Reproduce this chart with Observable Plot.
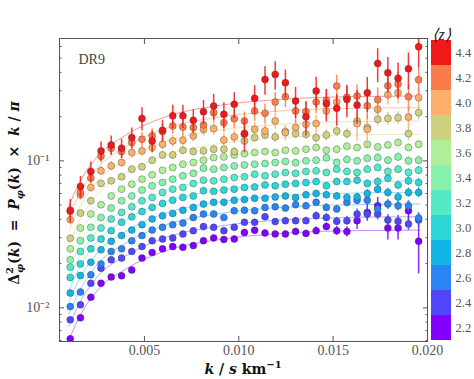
<!DOCTYPE html>
<html><head><meta charset="utf-8">
<script src="https://cdn.jsdelivr.net/npm/d3@7"></script>
<script src="https://cdn.jsdelivr.net/npm/@observablehq/plot@0.6"></script>
<style>
body{margin:0;background:#fff;}
#wrap{position:relative;width:474px;height:379px;}
#wrap svg{position:absolute;left:0;top:0;}
</style></head><body><div id="wrap"></div>
<script>
// ---- data ----
const kValues = [0.00107,0.00161,0.00216,0.00270,0.00324,0.00379,0.00433,0.00487,0.00541,0.00596,0.00650,0.00704,0.00759,0.00813,0.00867,0.00921,0.00976,0.01030,0.01084,0.01139,0.01193,0.01247,0.01301,0.01356,0.01410,0.01464,0.01519,0.01573,0.01627,0.01681,0.01736,0.01790,0.01844,0.01899,0.01953];
const zBins = [2.2,2.4,2.6,2.8,3.0,3.2,3.4,3.6,3.8,4.0,4.2,4.4];
const binColors = ["#8000ff","#5046fa","#2a84f2","#12b4e6","#2cd6d6","#55eac6","#88f2ac","#b0ef98","#cdd07e","#fab06a","#fb7b4a","#f01818"];

const v22 = [0.00616,0.00855,0.0118,0.0147,0.0162,0.0165,0.0181,0.0218,0.0238,0.0252,0.0261,0.0258,0.0265,0.0286,0.0299,0.0292,0.0294,0.0326,0.0337,0.0323,0.0318,0.0318,0.0331,0.0321,0.0335,0.0357,0.0335,0.0330,0.0392,0.0446,0.0495,0.0349,0.0349,0.0458,0.0284];
const v24 = [0.00829,0.0105,0.0147,0.0186,0.0212,0.0218,0.0242,0.0261,0.0286,0.0294,0.0299,0.0318,0.0335,0.0357,0.0353,0.0335,0.0353,0.0382,0.0382,0.0416,0.0386,0.0392,0.0392,0.0392,0.0423,0.0412,0.0388,0.0392,0.0435,0.0435,0.0435,0.0396,0.0388,0.0372,0.0396];
const v26 = [0.0102,0.0128,0.0168,0.0199,0.0242,0.0252,0.0286,0.0310,0.0338,0.0353,0.0368,0.0377,0.0412,0.0435,0.0435,0.0412,0.0458,0.0462,0.0458,0.0482,0.0487,0.0477,0.0503,0.0495,0.0522,0.0482,0.0471,0.0522,0.0540,0.0540,0.0471,0.0508,0.0495,0.0495,0.0408];
const v28 = [0.0126,0.0166,0.0204,0.0248,0.0284,0.0310,0.0338,0.0368,0.0402,0.0423,0.0439,0.0462,0.0482,0.0508,0.0522,0.0522,0.0540,0.0546,0.0557,0.0557,0.0568,0.0577,0.0564,0.0588,0.0600,0.0588,0.0577,0.0564,0.0568,0.0600,0.0642,0.0610,0.0568,0.0610,0.0610];
const v30 = [0.0161,0.0199,0.0252,0.0294,0.0335,0.0382,0.0416,0.0452,0.0482,0.0513,0.0540,0.0564,0.0577,0.0626,0.0620,0.0633,0.0642,0.0659,0.0665,0.0686,0.0676,0.0694,0.0701,0.0712,0.0723,0.0676,0.0723,0.0723,0.0739,0.0701,0.0723,0.0760,0.0686,0.0731,0.0712];
const v32 = [0.0189,0.0242,0.0299,0.0349,0.0402,0.0446,0.0487,0.0535,0.0564,0.0610,0.0642,0.0659,0.0701,0.0739,0.0731,0.0750,0.0771,0.0779,0.0812,0.0791,0.0812,0.0833,0.0822,0.0846,0.0855,0.0833,0.0878,0.0846,0.0833,0.0878,0.0901,0.0846,0.0878,0.0833,0.0864];
const v34 = [0.0212,0.0286,0.0353,0.0412,0.0477,0.0535,0.0577,0.0633,0.0676,0.0712,0.0750,0.0791,0.0822,0.0892,0.0878,0.0901,0.0924,0.0937,0.0949,0.0959,0.0974,0.0990,0.0970,0.1000,0.1011,0.1048,0.0974,0.1022,0.1000,0.1042,0.1053,0.1011,0.1064,0.1000,0.1011];
const v36 = [0.0252,0.0349,0.0435,0.0503,0.0577,0.0642,0.0694,0.0750,0.0803,0.0864,0.0901,0.0949,0.0974,0.1011,0.1053,0.1064,0.1098,0.1121,0.1139,0.1157,0.1139,0.1181,0.1169,0.1199,0.1232,0.1181,0.1199,0.1258,0.1232,0.1297,0.1244,0.1284,0.1332,0.1232,0.1297];
const v38 = [0.0297,0.0441,0.0535,0.0702,0.0731,0.0779,0.0878,0.0910,0.1011,0.1098,0.1098,0.1181,0.1157,0.1169,0.1199,0.1199,0.1157,0.1367,0.1440,0.1501,0.1455,0.1582,0.1533,0.1517,0.1440,0.1501,0.1598,0.1533,0.1868,0.1684,0.1917,0.1945,0.1968,0.1533,0.2128];
const v40 = [0.0398,0.0588,0.0659,0.0855,0.0924,0.0974,0.1139,0.1169,0.1232,0.1297,0.1367,0.1381,0.1478,0.1641,0.1657,0.1388,0.1455,0.1517,0.1641,0.1598,0.1868,0.1557,0.1684,0.1774,0.1792,0.2185,0.2515,0.2691,0.1792,0.1641,0.2242,0.2820,0.2905,0.1988,0.2691];
const v42 = [0.0453,0.0610,0.0763,0.1076,0.1220,0.1157,0.1332,0.1403,0.1478,0.1582,0.1728,0.1701,0.1684,0.1756,0.2128,0.1820,0.1934,0.1868,0.2185,0.2107,0.2515,0.2733,0.2185,0.2162,0.2515,0.2580,0.3230,0.2705,0.2762,0.2375,0.2607,0.3248,0.3329,0.2733,0.3562];
const v44 = [0.0462,0.0669,0.0847,0.1169,0.1284,0.1220,0.1440,0.1945,0.1367,0.1614,0.2026,0.2026,0.1887,0.2162,0.2362,0.2074,0.2424,0.1533,0.2663,0.3580,0.3876,0.3402,0.2554,0.1994,0.2986,0.2449,0.2277,0.2620,0.2399,0.2906,0.4601,0.3978,0.3642,0.4233,0.5972];

// relative 1-sigma errors
const e22 = [0.03,0.03,0.03,0.03,0.03,0.03,0.03,0.03,0.03,0.03,0.03,0.03,0.035,0.035,0.035,0.035,0.04,0.04,0.04,0.045,0.045,0.05,0.05,0.05,0.06,0.06,0.07,0.08,0.13,0.13,0.14,0.17,0.17,0.16,0.40];
const e24 = [0.03,0.03,0.03,0.03,0.03,0.03,0.03,0.03,0.03,0.03,0.03,0.035,0.035,0.035,0.035,0.04,0.04,0.04,0.045,0.045,0.05,0.05,0.05,0.055,0.06,0.06,0.065,0.07,0.08,0.08,0.09,0.09,0.1,0.1,0.11];
const e26 = [0.03,0.03,0.03,0.03,0.03,0.03,0.03,0.03,0.03,0.03,0.03,0.035,0.035,0.035,0.035,0.04,0.04,0.04,0.04,0.045,0.045,0.05,0.05,0.05,0.055,0.06,0.06,0.065,0.07,0.07,0.075,0.08,0.08,0.085,0.09];
const e28 = [0.03,0.03,0.03,0.03,0.03,0.03,0.03,0.03,0.03,0.03,0.03,0.03,0.035,0.035,0.035,0.035,0.04,0.04,0.04,0.04,0.045,0.045,0.045,0.05,0.05,0.055,0.055,0.06,0.06,0.065,0.065,0.07,0.07,0.075,0.08];
const e30 = [0.03,0.03,0.03,0.03,0.03,0.03,0.03,0.03,0.03,0.03,0.03,0.03,0.035,0.035,0.035,0.035,0.035,0.04,0.04,0.04,0.04,0.045,0.045,0.045,0.05,0.05,0.05,0.055,0.055,0.06,0.06,0.065,0.065,0.07,0.07];
const e32 = [0.03,0.03,0.03,0.03,0.03,0.03,0.03,0.03,0.03,0.03,0.03,0.03,0.035,0.035,0.035,0.035,0.035,0.04,0.04,0.04,0.04,0.045,0.045,0.045,0.05,0.05,0.05,0.055,0.055,0.06,0.06,0.06,0.065,0.065,0.07];
const e34 = [0.03,0.03,0.03,0.03,0.03,0.03,0.03,0.03,0.03,0.03,0.035,0.035,0.035,0.035,0.035,0.04,0.04,0.04,0.04,0.045,0.045,0.045,0.05,0.05,0.05,0.055,0.055,0.06,0.06,0.06,0.065,0.065,0.07,0.07,0.07];
const e36 = [0.03,0.03,0.03,0.03,0.03,0.03,0.03,0.03,0.03,0.03,0.035,0.035,0.035,0.035,0.035,0.04,0.04,0.04,0.04,0.04,0.045,0.045,0.045,0.045,0.05,0.05,0.05,0.05,0.055,0.055,0.055,0.06,0.06,0.06,0.065];
const e38 = [0.05,0.05,0.05,0.05,0.05,0.05,0.05,0.05,0.05,0.06,0.06,0.06,0.06,0.06,0.06,0.07,0.07,0.07,0.07,0.07,0.08,0.08,0.08,0.08,0.08,0.09,0.09,0.09,0.09,0.1,0.1,0.1,0.1,0.11,0.11];
const e40 = [0.08,0.07,0.07,0.07,0.07,0.07,0.08,0.08,0.08,0.08,0.09,0.09,0.09,0.1,0.1,0.1,0.1,0.11,0.11,0.11,0.12,0.12,0.12,0.13,0.13,0.13,0.14,0.14,0.24,0.25,0.15,0.15,0.16,0.16,0.16];
const e42 = [0.12,0.11,0.1,0.1,0.1,0.1,0.11,0.11,0.12,0.12,0.12,0.13,0.13,0.13,0.14,0.14,0.14,0.15,0.15,0.15,0.16,0.16,0.17,0.17,0.17,0.18,0.18,0.19,0.19,0.2,0.2,0.2,0.21,0.21,0.22];
const e44 = [0.18,0.17,0.16,0.15,0.15,0.15,0.16,0.18,0.17,0.17,0.18,0.18,0.18,0.19,0.2,0.2,0.2,0.26,0.22,0.22,0.22,0.22,0.24,0.26,0.24,0.25,0.24,0.25,0.26,0.27,0.26,0.27,0.27,0.28,0.28];

// model fits (read at sparse k)
const fitK = [0.0010,0.0015,0.0025,0.0040,0.0060,0.0090,0.0120,0.0150,0.0196];
const f22 = [0.00607,0.00842,0.0131,0.0183,0.0241,0.0292,0.0319,0.0333,0.0338];
const f24 = [0.00747,0.0104,0.0162,0.0225,0.0297,0.0360,0.0394,0.0410,0.0417];
const f26 = [0.00911,0.0126,0.0197,0.0275,0.0362,0.0439,0.0480,0.0500,0.0508];
const f28 = [0.0109,0.0152,0.0236,0.0330,0.0435,0.0527,0.0576,0.0600,0.0610];
const f30 = [0.0131,0.0182,0.0283,0.0396,0.0521,0.0632,0.0691,0.0720,0.0731];
const f32 = [0.0156,0.0216,0.0337,0.0470,0.0619,0.0751,0.0820,0.0855,0.0869];
const f34 = [0.0185,0.0257,0.0400,0.0558,0.0735,0.0892,0.0974,0.1016,0.1032];
const f36 = [0.0221,0.0307,0.0477,0.0666,0.0878,0.1065,0.1163,0.1213,0.1232];
const f38 = [0.0272,0.0378,0.0588,0.0820,0.1081,0.1311,0.1432,0.1493,0.1517];
const f40 = [0.0335,0.0465,0.0724,0.1010,0.1331,0.1615,0.1764,0.1839,0.1868];
const f42 = [0.0412,0.0573,0.0892,0.1245,0.1640,0.1988,0.2174,0.2265,0.2301];
const f44 = [0.0495,0.0687,0.1070,0.1493,0.1968,0.2386,0.2608,0.2719,0.2762];

const xTicks = [0.005,0.010,0.015,0.020];
const yMajor = [0.01,0.1];
const yMinor = [0.006,0.007,0.008,0.009,0.02,0.03,0.04,0.05,0.06,0.07,0.08,0.09,0.2,0.3,0.4,0.5,0.6];

// ---- build ----
const vals = [v22,v24,v26,v28,v30,v32,v34,v36,v38,v40,v42,v44];
const errs = [e22,e24,e26,e28,e30,e32,e34,e36,e38,e40,e42,e44];
const fits = [f22,f24,f26,f28,f30,f32,f34,f36,f38,f40,f42,f44];

const fitRows = zBins.flatMap((z,j)=>fitK.map((k,i)=>({z, k, v: fits[j][i]})));

const seriesMarks = zBins.flatMap((z,j)=>{
  const pts = kValues.map((k,i)=>({k, v: vals[j][i], lo: vals[j][i]*(1-errs[j][i]), hi: vals[j][i]*(1+errs[j][i])}));
  return [
    Plot.ruleX(pts, {x:"k", y1:"lo", y2:"hi", stroke: binColors[j], strokeWidth:1.5, strokeOpacity:0.85, clip:true}),
    Plot.dot(pts, {x:"k", y:"v", r:3.5, fill: binColors[j], stroke:"#333", strokeWidth:0.6, strokeOpacity:0.6, clip:true})
  ];
});

const sup = {"-":"\u207B","0":"\u2070","1":"\u00B9","2":"\u00B2","3":"\u00B3"};
const fmtPow = d => "10" + String(Math.round(Math.log10(d))).split("").map(c=>sup[c]).join("");
const blank = () => "";

const main = Plot.plot({
  width: 474, height: 379,
  marginLeft: 59, marginRight: 47, marginTop: 38, marginBottom: 38,
  style: {fontFamily: "'Liberation Serif', serif", fontSize: "14px", color: "#555", background: "white", overflow: "visible"},
  x: {domain: [0.0005, 0.0200]},
  y: {type: "log", domain: [0.0059, 0.68]},
  marks: [
    ...zBins.map((z,j)=>Plot.line(fitRows.filter(d=>d.z===z), {x:"k", y:"v", stroke: binColors[j], strokeOpacity:0.45, strokeWidth:1, curve:"monotone-x"})),
    ...seriesMarks,
    Plot.frame({stroke:"#555", strokeWidth:1}),
    Plot.axisX(xTicks, {anchor:"bottom", tickSize:0, tickPadding:4, tickFormat: d=>d.toFixed(3), label:null}),
    Plot.axisX(xTicks, {anchor:"bottom", tickSize:-5, tickFormat: blank, label:null, stroke:"#555"}),
    Plot.axisX(xTicks, {anchor:"top", tickSize:-5, tickFormat: blank, label:null, stroke:"#555"}),
    Plot.axisY(yMajor, {anchor:"left", tickSize:0, tickPadding:10, tickFormat: fmtPow, label:null}),
    Plot.axisY(yMajor, {anchor:"left", tickSize:-5, tickFormat: blank, label:null, stroke:"#555"}),
    Plot.axisY(yMinor, {anchor:"left", tickSize:-2.5, tickFormat: blank, label:null, stroke:"#555"}),
    Plot.axisY(yMajor, {anchor:"right", tickSize:-5, tickFormat: blank, label:null, stroke:"#555"}),
    Plot.axisY(yMinor, {anchor:"right", tickSize:-2.5, tickFormat: blank, label:null, stroke:"#555"}),
    Plot.text(["DR9"], {frameAnchor:"top-left", dx:19, dy:16, textAnchor:"start", fontSize:14, fill:"#444"})
  ]
});

const cbar = Plot.plot({
  width: 474, height: 379,
  marginLeft: 431, marginRight: 23, marginTop: 38, marginBottom: 38,
  style: {fontFamily: "'Liberation Serif', serif", fontSize: "12.5px", color: "#555", background: "transparent", overflow: "visible"},
  x: {type:"band", padding:0, axis:null},
  y: {type:"band", domain: zBins.slice().reverse(), padding:0},
  color: {type:"identity"},
  marks: [
    Plot.cell(zBins, {x: () => "c", y: d => d, fill: (d,i) => binColors[i]}),
    Plot.axisY(zBins, {anchor:"right", tickSize:0, tickPadding:4, tickFormat: d=>d.toFixed(1), label:null}),
    Plot.text(["\u27E8z\u27E9"], {frameAnchor:"top", dy:-10, fontSize:16, fontStyle:"italic", fill:"#222"})
  ]
});

const wrap = document.getElementById("wrap");
wrap.appendChild(main);
wrap.appendChild(cbar);

// axis titles
const svg = d3.select(main);
const yl = svg.append("text")
  .attr("transform","translate(19,193) rotate(-90)")
  .attr("text-anchor","middle")
  .style("font-family","'DejaVu Serif', serif").style("font-weight","bold").style("font-size","14px")
  .style("white-space","pre").attr("fill","#111");
yl.append("tspan").text("\u0394");
yl.append("tspan").attr("dy",-6).style("font-size","10px").text("2");
yl.append("tspan").attr("dx",-6).attr("dy",10).style("font-size","10px").style("font-style","italic").text("\u03C6");
yl.append("tspan").attr("dy",-4).text("(");
yl.append("tspan").style("font-style","italic").text("k");
yl.append("tspan").text(")  =  ");
yl.append("tspan").style("font-style","italic").text("P");
yl.append("tspan").attr("dy",4).style("font-size","10px").style("font-style","italic").text("\u03C6");
yl.append("tspan").attr("dy",-4).text("(");
yl.append("tspan").style("font-style","italic").text("k");
yl.append("tspan").text(")  \u00D7  ");
yl.append("tspan").style("font-style","italic").text("k");
yl.append("tspan").text(" / ");
yl.append("tspan").style("font-style","italic").text("\u03C0");

const xl = svg.append("text")
  .attr("x",243).attr("y",374)
  .attr("text-anchor","middle")
  .style("font-family","'DejaVu Serif', serif").style("font-weight","bold").style("font-size","14px")
  .style("white-space","pre").attr("fill","#111");
xl.append("tspan").style("font-style","italic").text("k");
xl.append("tspan").text(" / ");
xl.append("tspan").style("font-style","italic").text("s");
xl.append("tspan").text(" km");
xl.append("tspan").attr("dy",-6).style("font-size","10px").text("\u22121");
</script>
</body></html>
